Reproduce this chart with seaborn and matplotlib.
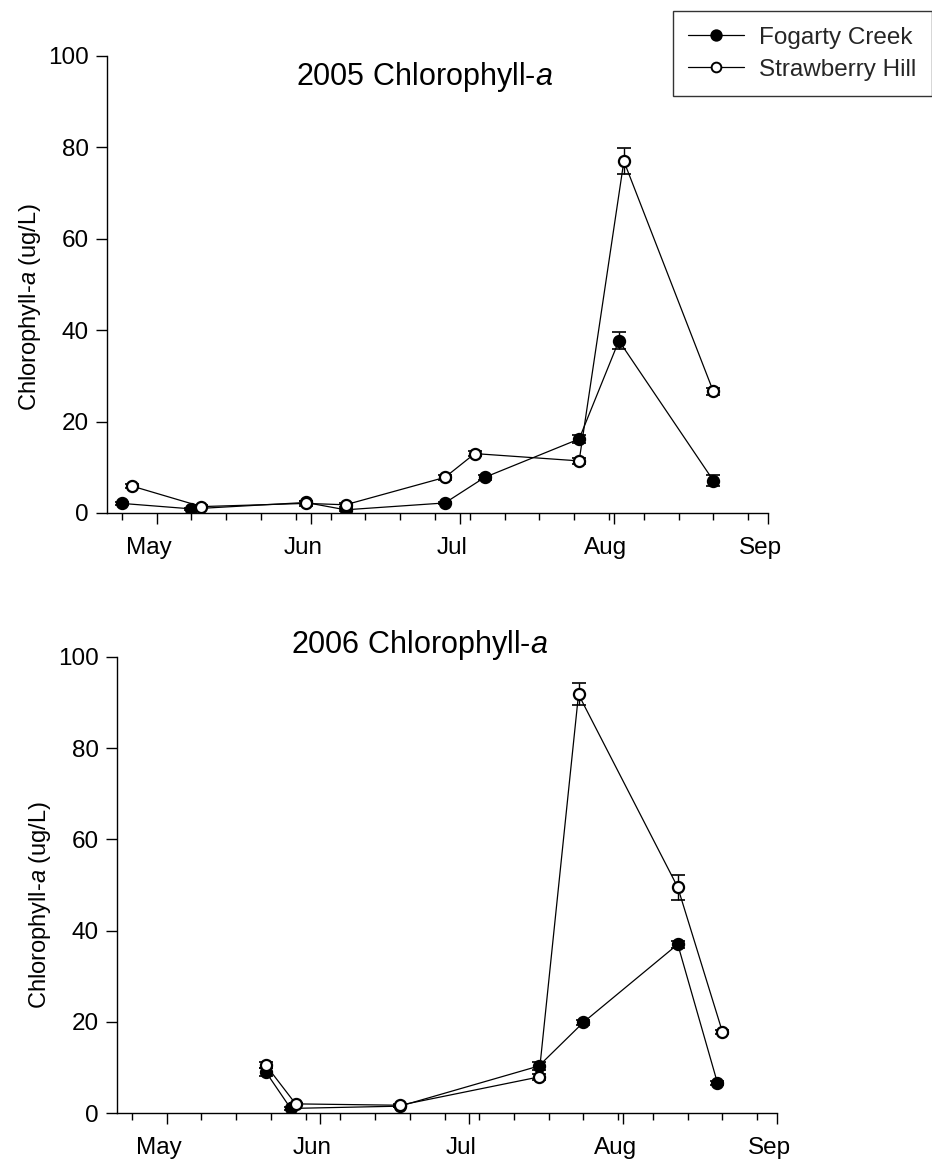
import numpy as np
import pandas as pd
import matplotlib
matplotlib.use("Agg")
import matplotlib.pyplot as plt
import matplotlib.dates as mdates
import matplotlib.transforms as mtransforms
from matplotlib.lines import Line2D
from matplotlib.ticker import FixedLocator
import seaborn as sns

# ---------------- data ----------------
sites = ["Fogarty Creek", "Strawberry Hill"]

fc05_dates = ["04-24", "05-08", "05-31", "06-08", "06-28", "07-06", "07-25", "08-02", "08-21"]
fc05_vals = [2.1, 0.9, 2.3, 0.7, 2.2, 7.8, 16.2, 37.7, 7.1]
fc05_err = [0.3, 0.2, 0.4, 0.2, 0.3, 0.5, 0.8, 1.8, 1.3]

sh05_dates = ["04-26", "05-10", "05-31", "06-08", "06-28", "07-04", "07-25", "08-03", "08-21"]
sh05_vals = [5.9, 1.4, 2.1, 1.8, 7.8, 13.0, 11.4, 77.0, 26.6]
sh05_err = [0.5, 0.3, 0.6, 0.4, 0.6, 0.6, 0.7, 2.9, 0.8]

fc06_dates = ["05-21", "05-26", "06-17", "07-15", "07-24", "08-12", "08-20"]
fc06_vals = [9.0, 1.0, 1.5, 10.3, 19.9, 37.0, 6.6]
fc06_err = [0.8, 0.3, 0.2, 0.8, 0.6, 0.8, 0.5]

sh06_dates = ["05-21", "05-27", "06-17", "07-15", "07-23", "08-12", "08-21"]
sh06_vals = [10.5, 2.0, 1.7, 7.9, 91.8, 49.5, 17.8]
sh06_err = [0.6, 0.3, 0.3, 0.6, 2.4, 2.7, 0.5]

month_starts = ["05-01", "06-01", "07-01", "08-01", "09-01"]
yticks = [0, 20, 40, 60, 80, 100]

# ---------------- style ----------------
sns.set_theme(style="ticks")
plt.rcParams["font.family"] = ["Liberation Sans", "DejaVu Sans"]
plt.rcParams["mathtext.fontset"] = "custom"
plt.rcParams["mathtext.rm"] = "Liberation Sans"
plt.rcParams["mathtext.it"] = "Liberation Sans:italic"

fig = plt.figure(figsize=(9.32, 11.63), dpi=100)
W, H = 932, 1163
ax1 = fig.add_axes([107 / W, 1 - 513 / H, (768 - 107) / W, (513 - 56) / H])
ax2 = fig.add_axes([117 / W, 1 - 1113 / H, (777 - 117) / W, (1113 - 657) / H])

TICK_FS = 17.5


def draw_panel(ax, year, fc, sh, title, title_xy, ylab_xy):
    for (d, v, e), face in [(fc, "black"), (sh, "white")]:
        df = pd.DataFrame({
            "date": pd.to_datetime([f"{year}-{s}" for s in d]),
            "val": v,
            "err": e,
        })
        ax.errorbar(df["date"], df["val"], yerr=df["err"], fmt="none",
                    ecolor="black", elinewidth=1.0, capsize=5, capthick=1.2,
                    zorder=2)
        sns.lineplot(data=df, x="date", y="val", ax=ax, color="black",
                     linewidth=0.9, marker="o", markersize=8,
                     markerfacecolor=face, markeredgecolor="black",
                     markeredgewidth=1.6, legend=False, zorder=3,
                     errorbar=None, sort=False)

    ax.set_xlim(pd.Timestamp(f"{year}-04-21"), pd.Timestamp(f"{year}-09-01"))
    ax.set_ylim(0, 100)
    ax.set_yticks(yticks)
    mdts = pd.to_datetime([f"{year}-{s}" for s in month_starts])
    ax.set_xticks(mdates.date2num(mdts))
    ax.set_xticklabels([m.strftime("%b") for m in mdts])
    minors = mdates.date2num(pd.date_range(f"{year}-04-24", f"{year}-08-31", freq="7D"))
    ax.xaxis.set_minor_locator(FixedLocator(minors))

    for s in ["top", "right"]:
        ax.spines[s].set_visible(False)
    for s in ["left", "bottom"]:
        ax.spines[s].set_color("black")
        ax.spines[s].set_linewidth(1.0)
    ax.tick_params(axis="both", which="major", direction="out", length=8,
                   width=1.0, colors="black", labelsize=TICK_FS, pad=5)
    ax.tick_params(axis="x", which="minor", direction="out", length=5,
                   width=1.0, colors="black")
    ax.tick_params(axis="x", which="major", pad=9)
    shift = mtransforms.ScaledTranslation(-8 / 100, 0, fig.dpi_scale_trans)
    for t in ax.xaxis.get_major_ticks():
        t.label1.set_transform(t.label1.get_transform() + shift)
    ax.set_xlabel("")
    ax.set_ylabel(r"Chlorophyll-$\mathit{a}$ (ug/L)", fontsize=17, color="black")
    ax.yaxis.set_label_coords(*ylab_xy)
    ax.text(title_xy[0], title_xy[1], title, transform=ax.transAxes,
            ha="center", va="center", fontsize=22, color="black")
    ax.set_facecolor("white")
    ax.grid(False)


draw_panel(ax1, 2005, (fc05_dates, fc05_vals, fc05_err),
           (sh05_dates, sh05_vals, sh05_err),
           r"2005 Chlorophyll-$\mathit{a}$", (0.48, 0.954), (-0.097, 0.45))
draw_panel(ax2, 2006, (fc06_dates, fc06_vals, fc06_err),
           (sh06_dates, sh06_vals, sh06_err),
           r"2006 Chlorophyll-$\mathit{a}$", (0.458, 1.026), (-0.097, 0.456))

handles = [
    Line2D([], [], color="black", linewidth=0.9, marker="o", markersize=7.5,
           markerfacecolor="black", markeredgecolor="black", markeredgewidth=1.4),
    Line2D([], [], color="black", linewidth=0.9, marker="o", markersize=7,
           markerfacecolor="white", markeredgecolor="black", markeredgewidth=1.4),
]
leg = fig.legend(handles, sites, loc="upper right",
                 bbox_to_anchor=(1.0, 1 - 11 / H), frameon=True,
                 fancybox=False, edgecolor="black", fontsize=17.5,
                 handlelength=2.3, handletextpad=0.6, borderpad=0.65,
                 labelspacing=0.4, borderaxespad=0.0)
leg.get_frame().set_linewidth(1.0)

fig.savefig("out.png", dpi=100, facecolor="white")
